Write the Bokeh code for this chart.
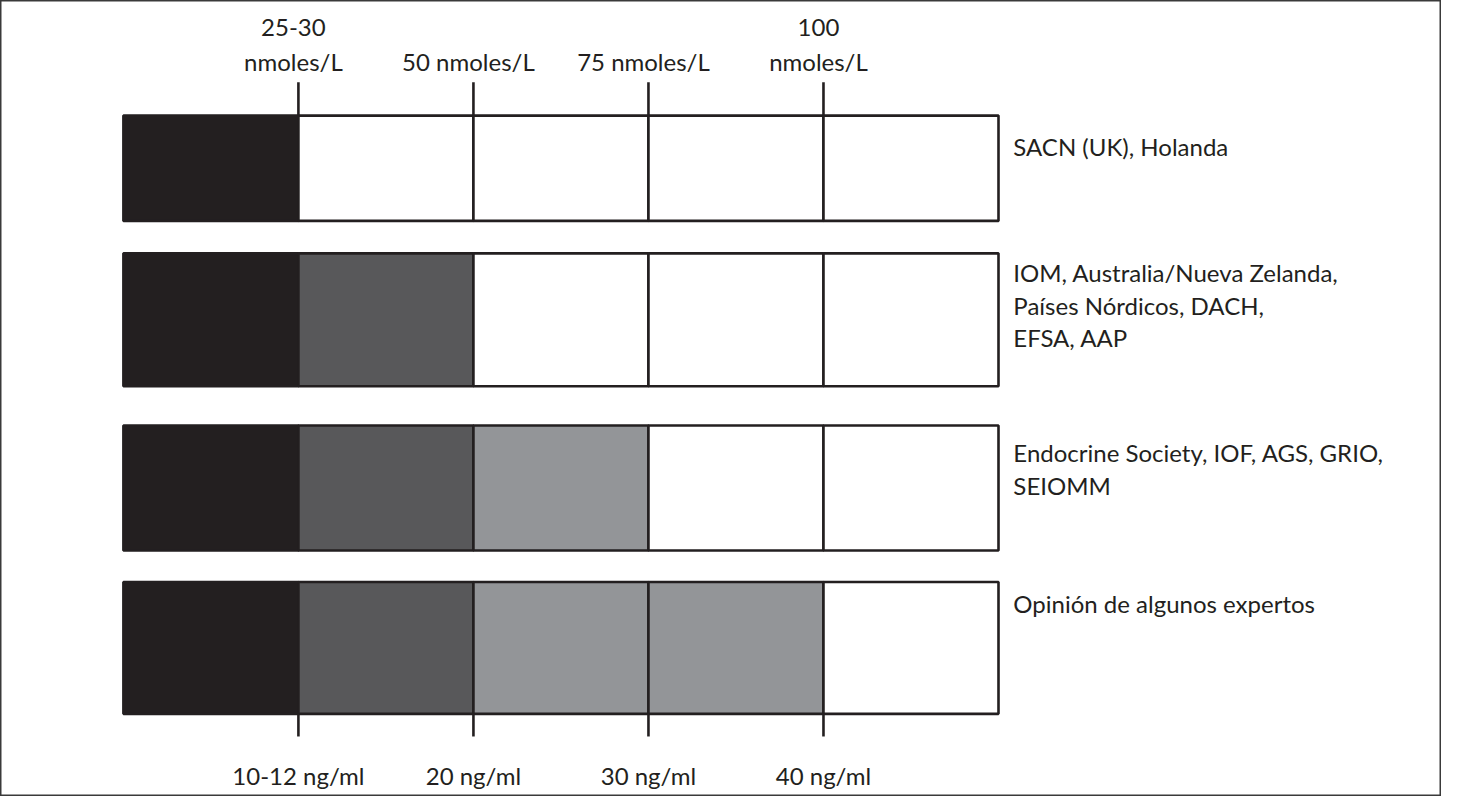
from bokeh.plotting import figure
from bokeh.models import Range1d, ColumnDataSource
from bokeh.core.properties import value
from bokeh.embed import file_html
from bokeh.resources import INLINE

# ---------------- data ----------------
groups = [
    "SACN (UK), Holanda",
    "IOM, Australia/Nueva Zelanda,\nPaíses Nórdicos, DACH,\nEFSA, AAP",
    "Endocrine Society, IOF, AGS, GRIO,\nSEIOMM",
    "Opinión de algunos expertos",
]
# shade level of each of the 5 concentration bands, per group
# 0 = deficiency (black), 1 = dark grey, 2 = light grey, 3 = white
band_levels = [
    [0, 3, 3, 3, 3],
    [0, 1, 3, 3, 3],
    [0, 1, 2, 3, 3],
    [0, 1, 2, 2, 3],
]
cutpoints = [1, 2, 3, 4]
nmol_labels = ["25-30\nnmoles/L", "50 nmoles/L", "75 nmoles/L", "100\nnmoles/L"]
ngml_labels = ["10-12 ng/ml", "20 ng/ml", "30 ng/ml", "40 ng/ml"]
level_colors = ["#231f20", "#58585a", "#939598", "#ffffff"]

# ---------------- layout (positions / sizes) ----------------
W, H = 1441, 796
REF_W, REF_H = 1454, 809          # layout units
PX_PER_BAND = 176.6
LEFT_PX = 124
ROW_TOP = [117, 257, 432, 591]
ROW_BOT = [224, 392, 559, 725]
LABEL_TOP = [134, 262, 445, 598]
FONT = value("Lato")
INK = "#231f20"
FS = "24px"

p = figure(
    width=W, height=H, output_backend="svg", toolbar_location=None,
    x_range=Range1d(-LEFT_PX / PX_PER_BAND, (REF_W - LEFT_PX) / PX_PER_BAND),
    y_range=Range1d(REF_H, 0),
    x_axis_type=None, y_axis_type=None, min_border=0,
)
p.outline_line_color = "#3a3a3a"
p.outline_line_width = 2
p.background_fill_color = "white"
p.border_fill_color = "white"

# bands
lefts, rights, tops, bots, colors = [], [], [], [], []
for gi, levels in enumerate(band_levels):
    for bi, lev in enumerate(levels):
        lefts.append(bi)
        rights.append(bi + 1)
        tops.append(ROW_TOP[gi])
        bots.append(ROW_BOT[gi])
        colors.append(level_colors[lev])
src = ColumnDataSource(dict(left=lefts, right=rights, top=tops, bottom=bots, color=colors))
p.quad(left="left", right="right", top="top", bottom="bottom", fill_color="color",
       line_color=INK, line_width=2.6, source=src)

# tick marks
p.segment(x0=cutpoints, x1=cutpoints, y0=[83] * 4, y1=[ROW_TOP[0]] * 4,
          line_color=INK, line_width=2.6)
p.segment(x0=cutpoints, x1=cutpoints, y0=[ROW_BOT[-1]] * 4, y1=[748] * 4,
          line_color=INK, line_width=2.6)

# threshold labels
p.text(x=cutpoints, y=[77] * 4, text=nmol_labels, text_align="center",
       text_baseline="bottom", text_font=FONT, text_font_size=FS, text_color=INK,
       text_line_height=1.2, x_offset=-5)
p.text(x=cutpoints, y=[788] * 4, text=ngml_labels, text_align="center",
       text_baseline="alphabetic", text_font=FONT, text_font_size=FS, text_color=INK)

# group labels
p.text(x=[5 + 15 / PX_PER_BAND] * 4, y=LABEL_TOP, text=groups, text_align="left",
       text_baseline="top", text_font=FONT, text_font_size=FS, text_color=INK,
       text_line_height=1.12)

open("out.html", "w").write(file_html(p, INLINE))
